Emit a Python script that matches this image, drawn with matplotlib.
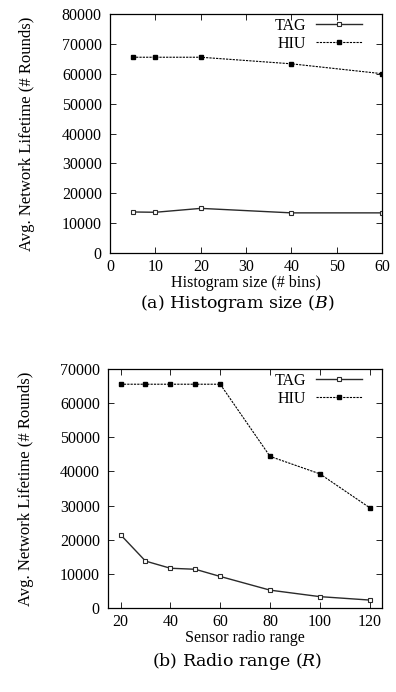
import matplotlib.pyplot as plt

plt.rcParams['font.family'] = ['Liberation Serif', 'DejaVu Serif']
plt.rcParams['mathtext.fontset'] = 'dejavuserif'

# (a) histogram size
bins = [5, 10, 20, 40, 60]
tag_bins = [13800, 13700, 15000, 13500, 13500]
hiu_bins = [65500, 65500, 65500, 63300, 60000]

# (b) radio range
radio = [20, 30, 40, 50, 60, 80, 100, 120]
tag_radio = [21500, 13800, 11700, 11400, 9300, 5300, 3400, 2400]
hiu_radio = [65500, 65500, 65500, 65500, 65500, 44400, 39300, 29400]

fig = plt.figure(figsize=(3.96, 6.92), dpi=100)
ax1 = fig.add_axes([0.278, 0.634, 0.687, 0.346])
ax2 = fig.add_axes([0.273, 0.121, 0.692, 0.346])


def style(ax, lx):
    ax.tick_params(direction='in', top=True, right=True, labelsize=11.5,
                   length=4, width=0.6, pad=6)
    ax.tick_params(axis='x', pad=4)
    for s in ax.spines.values():
        s.set_linewidth(0.9)
    ax.set_ylabel('Avg. Network Lifetime (# Rounds)', fontsize=12)
    ax.yaxis.set_label_coords(lx, 0.5)
    ax.legend(loc='upper right', frameon=False, markerfirst=False,
              fontsize=11.5, handlelength=2.9, borderaxespad=0.3,
              borderpad=0.2, labelspacing=0.1, handletextpad=0.6,
              bbox_to_anchor=(0.955, 1.016))


def draw(ax, x, tag, hiu):
    ax.plot(x, tag, '-', color='#2a2a2a', lw=1.0, marker='s', ms=3.3,
            mfc='white', mec='#2a2a2a', mew=0.8, label='TAG')
    ax.plot(x, hiu, '--', dashes=(2, 1), color='black', lw=0.8, marker='s',
            ms=3.3, mfc='black', mec='black', label='HIU')


draw(ax1, bins, tag_bins, hiu_bins)
ax1.set_xlim(0, 60)
ax1.set_ylim(0, 80000)
ax1.set_xticks([0, 10, 20, 30, 40, 50, 60])
ax1.set_yticks(range(0, 80001, 10000))
ax1.set_xlabel('Histogram size (# bins)', fontsize=11.5, labelpad=0)
style(ax1, -0.276)

draw(ax2, radio, tag_radio, hiu_radio)
ax2.set_xlim(15, 125)
ax2.set_ylim(0, 70000)
ax2.set_xticks([20, 40, 60, 80, 100, 120])
ax2.set_yticks(range(0, 70001, 10000))
ax2.set_xlabel('Sensor radio range', fontsize=11.5, labelpad=0)
style(ax2, -0.27)

fig.text(0.6, 1 - 303 / 692, r'(a) Histogram size ($B$)', ha='center',
         va='center', fontsize=12.5, family='DejaVu Serif')
fig.text(0.6, 1 - 662 / 692, r'(b) Radio range ($R$)', ha='center',
         va='center', fontsize=12.5, family='DejaVu Serif')

fig.savefig('out.png', dpi=100)
